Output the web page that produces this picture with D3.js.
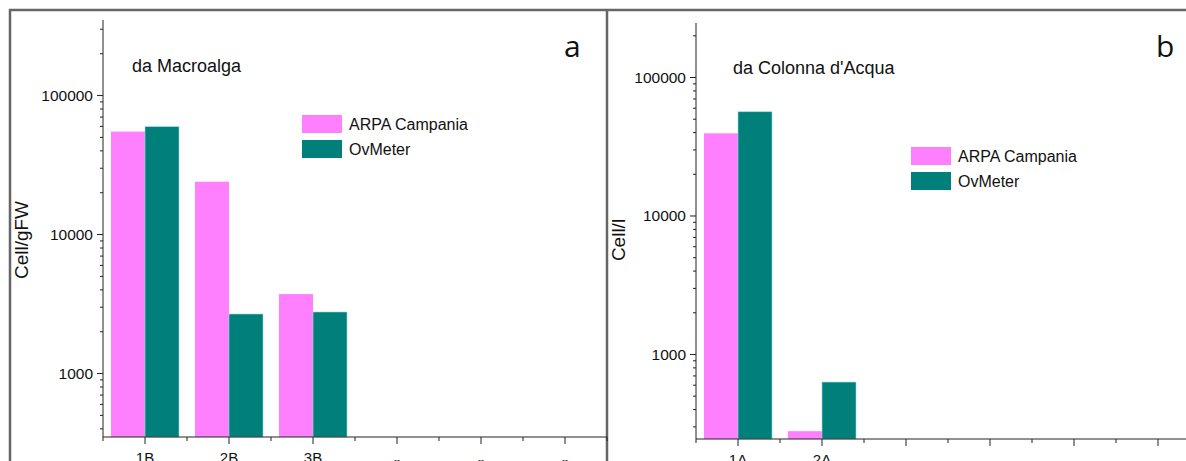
<!DOCTYPE html>
<html>
<head>
<meta charset="utf-8">
<script src="https://cdn.jsdelivr.net/npm/d3@7"></script>
<style>
  html, body { margin: 0; padding: 0; background: #fff; }
  svg { display: block; }
  text { font-family: "Liberation Sans", Arial, sans-serif; fill: #111; }
</style>
</head>
<body>
<svg id="chart" width="1186" height="461"></svg>
<script>
// Sample sites and series
const seriesNames = ["ARPA Campania", "OvMeter"];
const seriesColors = ["#ff80ff", "#007f7b"];

// Panel a — cells from macroalgae (Cell/gFW)
const catsA = ["1B", "2B", "3B", "--", "--", "--"];
const arpaA = [54600, 23800, 3700, null, null, null];
const ovmA  = [59200, 2660, 2750, null, null, null];

// Panel b — cells from water column (Cell/l)
const catsB = ["1A", "2A", "--", "--", "--", "--"];
const arpaB = [39200, 277, null, null, null, null];
const ovmB  = [56100, 627, null, null, null, null];

const yTickLabels = [1000, 10000, 100000];

const svg = d3.select("#chart");

// Panel frames
svg.append("line").attr("x1", 9).attr("x2", 1186).attr("y1", 10).attr("y2", 10)
  .attr("stroke", "#666").attr("stroke-width", 2.5);
svg.append("line").attr("x1", 10).attr("x2", 10).attr("y1", 9).attr("y2", 461)
  .attr("stroke", "#666").attr("stroke-width", 2.5);
svg.append("line").attr("x1", 607).attr("x2", 607).attr("y1", 9).attr("y2", 461)
  .attr("stroke", "#666").attr("stroke-width", 2.5);

function drawPanel(cfg) {
  const g = svg.append("g");
  const n = cfg.cats.length;
  const x = d3.scaleBand().domain(d3.range(n)).range([cfg.x0, cfg.x1]).padding(0);
  const xs = d3.scaleBand().domain(seriesNames).range([0, x.bandwidth()])
    .paddingInner(0).paddingOuter(0.235);
  const y = d3.scaleLog().domain(cfg.yDomain).range([cfg.yBottom, cfg.yTop]);

  // bars
  const rows = cfg.cats.map((c, i) => ({ i, vals: [cfg.a[i], cfg.b[i]] }));
  rows.forEach(r => {
    r.vals.forEach((v, s) => {
      if (v == null) return;
      g.append("rect")
        .attr("x", x(r.i) + xs(seriesNames[s]))
        .attr("width", xs.bandwidth())
        .attr("y", y(v))
        .attr("height", cfg.yBottom - y(v))
        .attr("fill", seriesColors[s])
        .attr("stroke", s === 1 ? "#8fe0dc" : "none")
        .attr("stroke-width", 0.6);
    });
  });

  // y axis: all log ticks, majors labelled
  const allTicks = y.ticks().filter(t => t >= cfg.yDomain[0] && t <= cfg.yDomain[1]);
  const isMajor = t => Math.abs(Math.log10(t) - Math.round(Math.log10(t))) < 1e-9;
  const yAxis = g.append("g").attr("transform", `translate(${cfg.x0},0)`)
    .call(d3.axisLeft(y).tickValues(allTicks).tickSize(0).tickFormat(""));
  yAxis.select(".domain").attr("stroke", "#222").attr("d", `M0,${cfg.yTop}V${cfg.yBottom}`);
  yAxis.selectAll(".tick line")
    .attr("x2", d => isMajor(d) ? -6 : -3)
    .attr("stroke", "#222");
  yAxis.selectAll(".tick").filter(d => yTickLabels.includes(d))
    .append("text")
    .attr("x", -10).attr("dy", "0.35em")
    .attr("text-anchor", "end")
    .style("font-size", "15.5px")
    .text(d => d);

  // x axis: majors at category centres, minors at boundaries
  const xAxis = g.append("g").attr("transform", `translate(0,${cfg.yBottom})`)
    .call(d3.axisBottom(x).tickSize(0).tickFormat(""));
  xAxis.select(".domain").attr("stroke", "#222").attr("d", `M${cfg.x0},0H${cfg.x1}`);
  xAxis.selectAll(".tick line").attr("y2", 7).attr("stroke", "#222");
  xAxis.selectAll(".tick").append("text")
    .attr("y", 26).attr("text-anchor", "middle")
    .style("font-size", d => cfg.cats[d] === "--" ? "9px" : "15px")
    .attr("fill", "#222")
    .text(d => cfg.cats[d]);
  d3.range(n + 1).forEach(i => {
    const bx = cfg.x0 + i * x.bandwidth();
    xAxis.append("line").attr("x1", bx).attr("x2", bx).attr("y1", 0).attr("y2", 4)
      .attr("stroke", "#222");
  });

  // y title
  g.append("text")
    .attr("transform", `translate(${cfg.titleX},${cfg.titleY}) rotate(-90)`)
    .attr("text-anchor", "middle")
    .style("font-size", "19px")
    .text(cfg.yTitle);

  // inner caption
  g.append("text").attr("x", cfg.capX).attr("y", cfg.capY)
    .style("font-size", "18px").text(cfg.caption);

  // legend
  seriesNames.forEach((s, k) => {
    g.append("rect").attr("x", cfg.legX).attr("y", cfg.legY + k * 25)
      .attr("width", 40).attr("height", 18).attr("fill", seriesColors[k]);
    g.append("text").attr("x", cfg.legX + 47).attr("y", cfg.legY + k * 25 + 15)
      .style("font-size", "16px").text(s);
  });

  // panel letter
  g.append("text").attr("x", cfg.letterX).attr("y", 57)
    .style("font-family", "'Open Sans', sans-serif")
    .style("font-size", "30px").text(cfg.letter);
}

drawPanel({
  cats: catsA, a: arpaA, b: ovmA,
  x0: 103, x1: 607, yTop: 20, yBottom: 437,
  yDomain: [Math.pow(10, 2.54), Math.pow(10, 5.54)],
  yTitle: "Cell/gFW", titleX: 28, titleY: 240,
  caption: "da Macroalga", capX: 132, capY: 72,
  legX: 302, legY: 115, letter: "a", letterX: 564
});

drawPanel({
  cats: catsB, a: arpaB, b: ovmB,
  x0: 696, x1: 1200, yTop: 23, yBottom: 439,
  yDomain: [Math.pow(10, 2.386), Math.pow(10, 5.39)],
  yTitle: "Cell/l", titleX: 625, titleY: 240,
  caption: "da Colonna d'Acqua", capX: 733, capY: 74,
  legX: 911, legY: 147, letter: "b", letterX: 1156
});
</script>
</body>
</html>
